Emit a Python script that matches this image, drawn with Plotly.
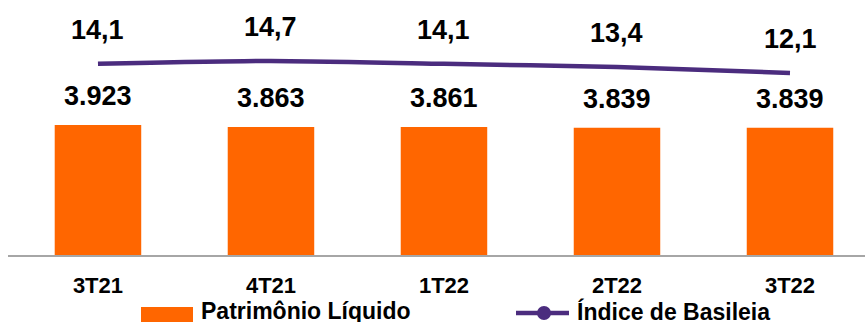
import plotly.graph_objects as go

categories = ["3T21", "4T21", "1T22", "2T22", "3T22"]
patrimonio = [3923, 3863, 3861, 3839, 3839]
basileia = [14.1, 14.7, 14.1, 13.4, 12.1]
legend_labels = ["Patrimônio Líquido", "Índice de Basileia"]

ORANGE = "#FF6600"
PURPLE = "#4B2C7E"
FONT = "Arial, Liberation Sans, sans-serif"
W, H = 865, 322
ML, MR, MT, MB = 8, 0, 0, 67
PW = W - ML - MR
PH = H - MT - MB


def px(x):
    return (x - ML) / PW


def py(y):
    return 1 - (y - MT) / PH


xs = list(range(len(categories)))

fig = go.Figure()
fig.add_bar(x=xs, y=patrimonio, width=0.5, marker_color=ORANGE,
            marker_line_width=0, hoverinfo="skip", showlegend=False)
fig.add_scatter(x=xs, y=basileia, yaxis="y2", mode="lines",
                line=dict(color=PURPLE, width=4.5, shape="spline", smoothing=0.6),
                hoverinfo="skip", showlegend=False)

annotations = []
for i, v in enumerate(patrimonio):
    annotations.append(dict(x=i, y=v, xref="x", yref="y", yshift=29,
                            text="<b>" + f"{v:,}".replace(",", ".") + "</b>",
                            showarrow=False, font=dict(family=FONT, size=27, color="black"),
                            yanchor="middle"))
for i, v in enumerate(basileia):
    annotations.append(dict(x=i, y=v, xref="x", yref="y2", yshift=34,
                            text="<b>" + f"{v:.1f}".replace(".", ",") + "</b>",
                            showarrow=False, font=dict(family=FONT, size=27, color="black"),
                            yanchor="middle"))

# legend (manual)
annotations.append(dict(x=px(199), y=py(311), xref="paper", yref="paper",
                        xanchor="left", yanchor="middle", showarrow=False,
                        text="<b>" + legend_labels[0] + "</b>",
                        font=dict(family=FONT, size=23, color="black")))
annotations.append(dict(x=px(575), y=py(311), xref="paper", yref="paper",
                        xanchor="left", yanchor="middle", showarrow=False,
                        text="<b>" + legend_labels[1] + "</b>",
                        font=dict(family=FONT, size=23, color="black")))

shapes = [
    dict(type="rect", xref="paper", yref="paper", x0=px(141), x1=px(193),
         y0=py(322), y1=py(307), fillcolor=ORANGE, line_width=0),
    dict(type="line", xref="paper", yref="paper", x0=px(516), x1=px(569),
         y0=py(313), y1=py(313), line=dict(color=PURPLE, width=4.5)),
    dict(type="circle", xref="paper", yref="paper", x0=px(537), x1=px(551),
         y0=py(320), y1=py(306), fillcolor=PURPLE, line_width=0),
]

fig.update_layout(
    width=W, height=H,
    margin=dict(l=ML, r=MR, t=MT, b=MB, pad=0),
    paper_bgcolor="white", plot_bgcolor="white",
    showlegend=False,
    bargap=0.5,
    xaxis=dict(range=[-0.52, 4.4335], tickmode="array", tickvals=xs,
               ticktext=["<b>" + c + "</b>" for c in categories],
               tickfont=dict(family=FONT, size=22, color="black"),
               showline=True, linecolor="#A6A6A6", linewidth=2,
               ticks="outside", ticklen=10, tickcolor="rgba(0,0,0,0)",
               showgrid=False, zeroline=False, fixedrange=True),
    yaxis=dict(range=[0, 7695], visible=False, showgrid=False, zeroline=False),
    yaxis2=dict(range=[-27.34, 27.92], overlaying="y", visible=False,
                showgrid=False, zeroline=False),
    annotations=annotations,
    shapes=shapes,
)

fig.write_html("out.html")
